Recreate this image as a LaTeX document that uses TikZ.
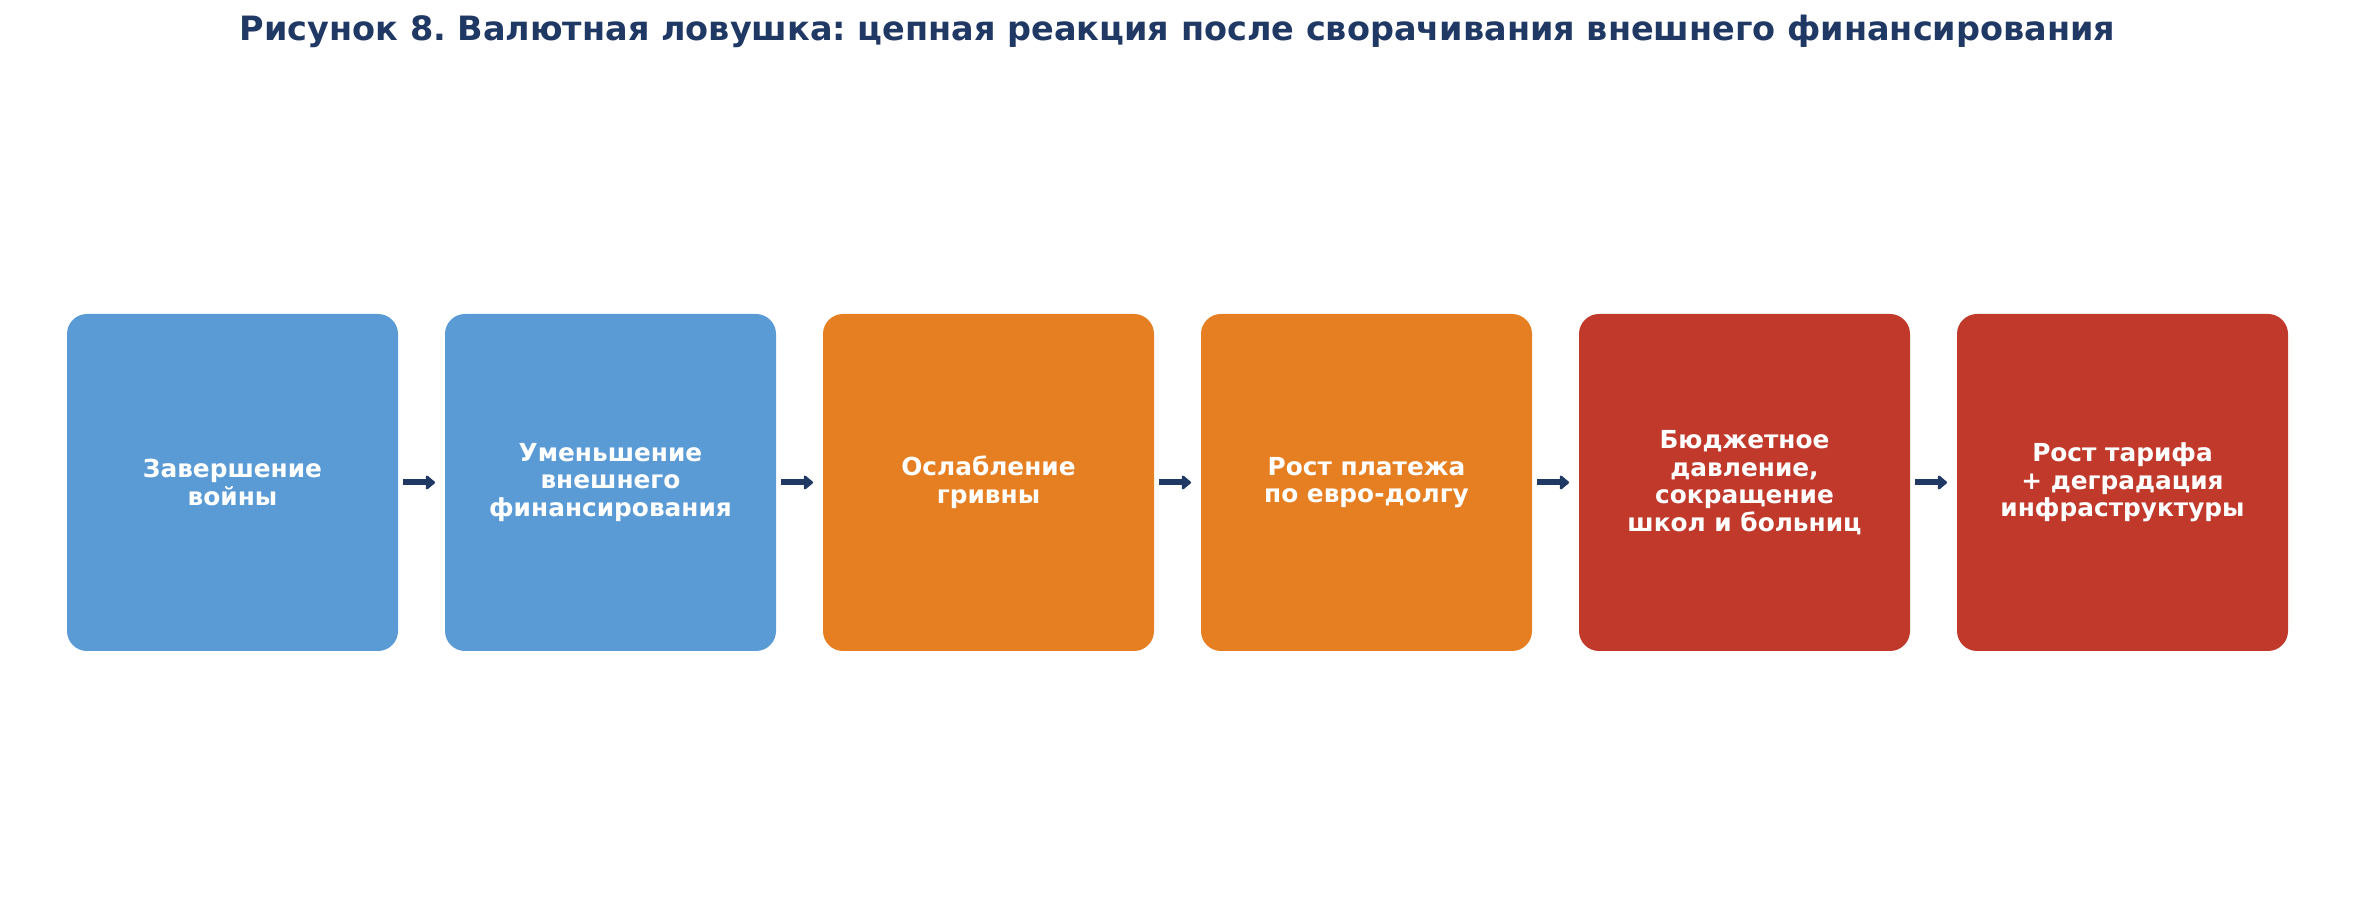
\documentclass[tikz,border=0pt]{standalone}
\usepackage{fontspec}
\setmainfont{DejaVu Sans}
\usepackage{xcolor}
\usetikzlibrary{positioning,arrows.meta}
\definecolor{FXBlue}{HTML}{5B9BD5}
\definecolor{FXOrange}{HTML}{E67E22}
\definecolor{FXRed}{HTML}{C0392B}
\definecolor{FXNavy}{HTML}{1F3864}
\frenchspacing
\tikzset{
  stagebox/.style={rounded corners=20pt,minimum width=331pt,minimum height=337pt,
    align=center,text=white,inner sep=0pt,outer sep=0pt,
    font=\bfseries\fontsize{24.8}{27.5}\selectfont},
  flowarrow/.style={FXNavy,line width=6pt,-{Triangle[round,length=10pt,width=16pt]},
    shorten <=5pt,shorten >=10pt}
}
\begin{document}
\begin{tikzpicture}[x=1pt,y=1pt,node distance=47pt]
\path[use as bounding box] (0,0) rectangle (2355,902);
\node[text=FXNavy,font=\bfseries\fontsize{33.5}{40}\selectfont] (title) at (1177.5,871) {Рисунок 8. Валютная ловушка: цепная реакция после сворачивания внешнего финансирования};
\node[stagebox,fill=FXBlue] (s1) at (232.5,419.5) {Завершение\\войны};
\node[stagebox,fill=FXBlue,right=of s1] (s2) {Уменьшение\\внешнего\\финансирования};
\node[stagebox,fill=FXOrange,right=of s2] (s3) {Ослабление\\гривны};
\node[stagebox,fill=FXOrange,right=of s3] (s4) {Рост платежа\\по евро-долгу};
\node[stagebox,fill=FXRed,right=of s4] (s5) {Бюджетное\\давление,\\сокращение\\школ и больниц};
\node[stagebox,fill=FXRed,right=of s5] (s6) {Рост тарифа\\+ деградация\\инфраструктуры};
\foreach \a/\b in {s1/s2,s2/s3,s3/s4,s4/s5,s5/s6}
  \draw[flowarrow] (\a.east) -- (\b.west);
\end{tikzpicture}
\end{document}
